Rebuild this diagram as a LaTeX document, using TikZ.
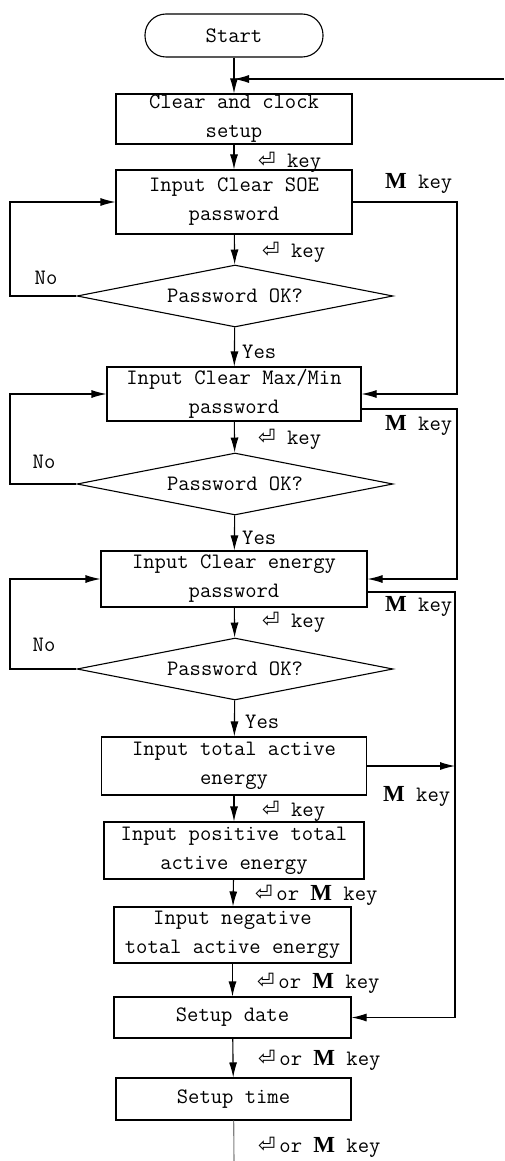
\documentclass[tikz,border=0pt]{standalone}
\usepackage{fontspec}
\newfontfamily\symfont{DejaVu Sans}
\newfontfamily\mkeyfont{Liberation Serif}
\usetikzlibrary{shapes.geometric,arrows.meta}
\newcommand{\enterkey}{{\symfont\fontsize{21}{21}\selectfont ⏎}}
\newcommand{\mkey}{{\mkeyfont\bfseries\fontsize{23}{23}\selectfont M}}

\begin{document}
\begin{tikzpicture}[x=1pt, y=-1pt,
        font=\ttfamily\fontsize{22}{29}\selectfont,
        stepbox/.style={draw, line width=1.1pt, align=center, inner sep=0pt},
        decision/.style={draw, diamond, aspect=5.1, line width=1.1pt, inner sep=0pt,
                minimum width=316pt, minimum height=62pt},
        arrow/.style={-{Latex[length=15pt,width=8pt]}, line width=1.1pt},
        keylabel/.style={anchor=west, inner sep=0pt}
    ]
    \useasboundingbox (0,0) rectangle (504,1161);

    \node[stepbox, rounded corners=21pt, minimum width=178pt, minimum height=43pt] (start) at (234,35.5) {Start};
    \node[stepbox, minimum width=236pt, minimum height=50pt] (clear) at (234,119) {Clear and clock\\setup};
    \node[stepbox, minimum width=236pt, minimum height=64pt] (soe) at (234,202) {Input Clear SOE\\password};
    \node[decision] (okA) at (235,296) {Password OK?};
    \node[stepbox, minimum width=254pt, minimum height=54pt] (maxmin) at (234,394) {Input Clear Max/Min\\password};
    \node[decision] (okB) at (235,484) {Password OK?};
    \node[stepbox, minimum width=266pt, minimum height=56pt] (energy) at (234,579) {Input Clear energy\\password};
    \node[decision] (okC) at (235,669) {Password OK?};
    \node[stepbox, minimum width=265pt, minimum height=58pt] (total) at (234,766) {Input total active\\energy};
    \node[stepbox, minimum width=260pt, minimum height=57pt] (pos) at (234,850.5) {Input positive total\\active energy};
    \node[stepbox, minimum width=237pt, minimum height=56pt] (neg) at (232.5,935) {Input negative\\total active energy};
    \node[stepbox, minimum width=237pt, minimum height=41pt] (date) at (232.5,1017.5) {Setup date};
    \node[stepbox, minimum width=235pt, minimum height=42pt] (time) at (233.5,1099) {Setup time};

    % loop back in, rails on the right, exit at the bottom
    \coordinate (loopin) at (504,79);
    \coordinate (railA) at (457,0);
    \coordinate (railB) at (455,0);
    \coordinate (railL) at (10,0);
    \coordinate (exit) at (234,1161);

    % labels
    \node[keylabel] (kA) at (258,162) {\enterkey\ key};
    \node[keylabel] (kB) at (262,252) {\enterkey\ key};
    \node[keylabel] (kC) at (258,439) {\enterkey\ key};
    \node[keylabel] (kD) at (262,622) {\enterkey\ key};
    \node[keylabel] (kE) at (262,811) {\enterkey\ key};
    \node[keylabel] (kF) at (255,895) {\enterkey\,or \mkey\ key};
    \node[keylabel] (kG) at (257,983) {\enterkey\,or \mkey\ key};
    \node[keylabel] (kH) at (258,1060) {\enterkey\,or \mkey\ key};
    \node[keylabel] (kI) at (258,1147) {\enterkey\,or \mkey\ key};
    \node[keylabel] (mA) at (385,183) {\mkey\ key};
    \node[keylabel] (mB) at (385,425) {\mkey\ key};
    \node[keylabel] (mC) at (385,606) {\mkey\ key};
    \node[keylabel] (mD) at (383,796) {\mkey\ key};
    \node (noA) at (46,278) {No};
    \node (noB) at (44,462) {No};
    \node (noC) at (44,645) {No};
    \node[keylabel] (yesA) at (242,352) {Yes};
    \node[keylabel] (yesB) at (242,538) {Yes};
    \node[keylabel] (yesC) at (245,722) {Yes};

    % main flow
    \draw[arrow] (start) -- (clear);
    \draw[arrow] (loopin) -- (start.south |- loopin);
    \draw[arrow] (clear) -- (soe);
    \draw[arrow] (soe) -- (okA);
    \draw[arrow] (okA) -- (maxmin);
    \draw[arrow] (maxmin) -- (okB);
    \draw[arrow] (okB) -- (energy);
    \draw[arrow] (energy) -- (okC);
    \draw[arrow] (okC) -- (total);
    \draw[arrow] (total) -- (pos);
    \draw[arrow] (pos) -- (neg);
    \draw[arrow] (neg) -- (date);
    \draw[arrow] (date) -- (time);
    \draw[line width=1.1pt, gray] (time) -- (exit);

    % wrong password
    \draw[arrow] (okA.west) -- (okA.west -| railL) |- (soe.west);
    \draw[arrow] (okB.west) -- (okB.west -| railL) |- (maxmin.west);
    \draw[arrow] (okC.west) -- (okC.west -| railL) |- (energy.west);

    % M key skips
    \draw[arrow] (soe.east) -- (soe.east -| railA) |- (maxmin.east);
    \draw[arrow] ([yshift=-15pt]maxmin.east) -- ([yshift=-15pt]maxmin.east -| railA) |- (energy.east);
    \draw[arrow] ([yshift=-13pt]energy.east) -- ([yshift=-13pt]energy.east -| railB) |- (date.east);
    \draw[arrow] (total.east) -- (total.east -| railB);
\end{tikzpicture}
\end{document}
